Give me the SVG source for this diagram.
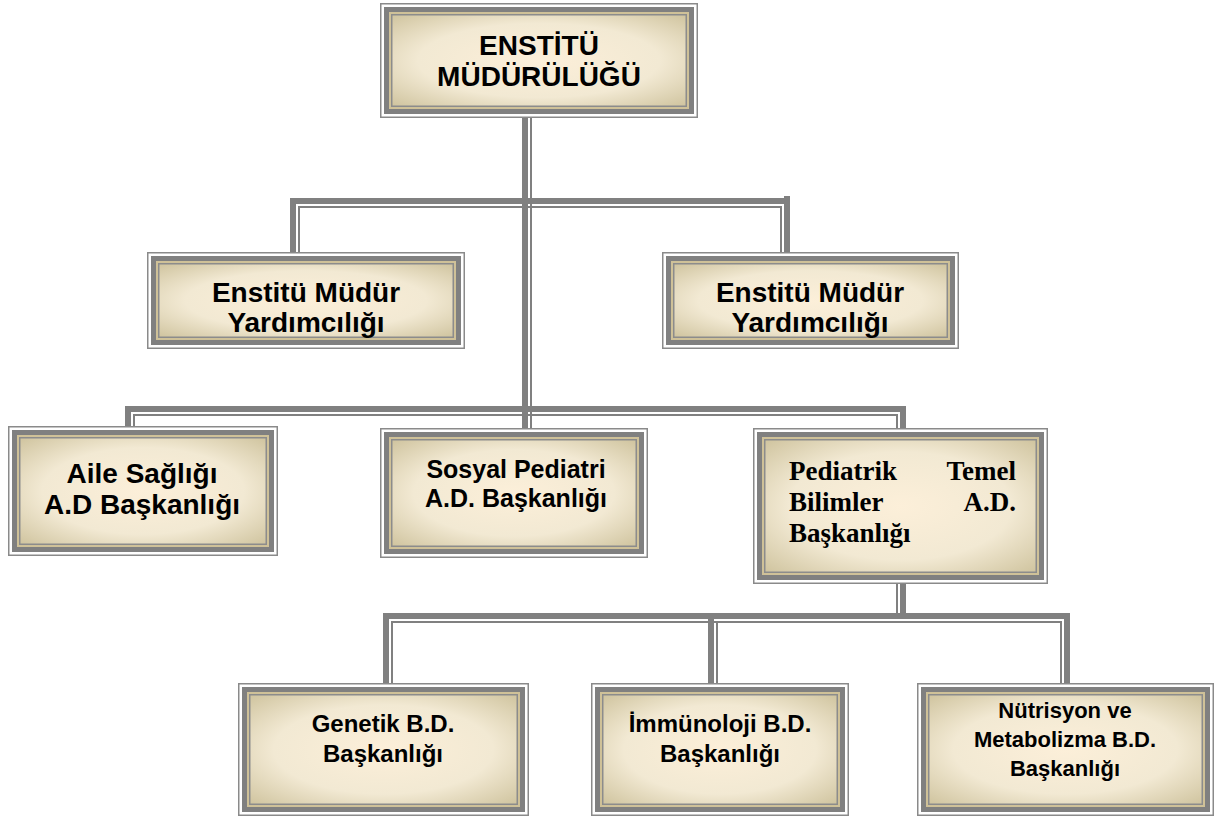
<svg xmlns="http://www.w3.org/2000/svg" width="1224" height="819" viewBox="0 0 1224 819">
<defs>
<radialGradient id="g" cx="0.5" cy="0.5" r="0.75">
<stop offset="0" stop-color="#fcefd9"/>
<stop offset="0.55" stop-color="#f2e9d3"/>
<stop offset="1" stop-color="#cbbf98"/>
</radialGradient>
<style>
.o{fill:#fff;stroke:#8a8a8a;stroke-width:1.5}
.b{fill:#808080}
.t{fill:#cfc198}
.l{fill:#8c8c8c}
.f{fill:url(#g)}
.c{fill:#808080}
.s{font-family:"Liberation Sans",Arial,sans-serif;font-weight:bold;fill:#000;text-anchor:middle}
.r{font-family:"Liberation Serif","Times New Roman",serif;font-weight:bold;fill:#000;font-size:27px}
</style>
</defs>
<rect width="1224" height="819" fill="#fff"/>
<g id="connectors">
<rect class="c" x="522" y="117" width="6" height="311"/><rect class="c" x="530" y="117" width="2" height="311"/>
<rect class="c" x="290" y="198" width="500" height="6"/><rect class="c" x="298" y="206" width="484" height="2"/>
<rect class="c" x="290" y="198" width="6" height="54"/><rect class="c" x="298" y="206" width="2" height="46"/>
<rect class="c" x="784" y="196" width="6" height="56"/><rect class="c" x="780" y="206" width="2" height="46"/>
<rect class="c" x="125" y="406" width="781" height="6"/><rect class="c" x="133" y="414" width="763" height="2"/>
<rect class="c" x="125" y="406" width="6" height="20"/><rect class="c" x="133" y="414" width="2" height="12"/>
<rect class="c" x="900" y="406" width="6" height="22"/><rect class="c" x="896" y="414" width="2" height="14"/>
<rect class="c" x="900" y="583" width="6" height="36"/><rect class="c" x="896" y="583" width="2" height="30"/>
<rect class="c" x="383" y="613" width="687" height="6"/><rect class="c" x="391" y="621" width="669" height="2"/>
<rect class="c" x="383" y="617" width="6" height="66"/><rect class="c" x="391" y="621" width="2" height="62"/>
<rect class="c" x="708" y="613" width="6" height="70"/><rect class="c" x="716" y="621" width="2" height="62"/>
<rect class="c" x="1064" y="617" width="6" height="66"/><rect class="c" x="1060" y="621" width="2" height="62"/>
</g>
<g id="n-mudurluk">
<rect class="o" x="380.75" y="3.75" width="316.5" height="113.5"/><rect class="b" x="384" y="7" width="310" height="107"/><rect class="t" x="389" y="12" width="300" height="97"/><rect class="l" x="391" y="14" width="296" height="93"/><rect class="f" x="392.5" y="15.5" width="293" height="90"/>
<text class="s" font-size="28" x="539" y="55">ENSTİTÜ</text><text class="s" font-size="28" x="539" y="86">MÜDÜRÜLÜĞÜ</text>
</g>
<g id="n-yard1">
<rect class="o" x="147.75" y="252.75" width="316.5" height="95.5"/><rect class="b" x="151" y="256" width="310" height="89"/><rect class="t" x="156" y="261" width="300" height="79"/><rect class="l" x="158" y="263" width="296" height="75"/><rect class="f" x="159.5" y="264.5" width="293" height="72"/>
<text class="s" font-size="28" x="306" y="302">Enstitü Müdür</text><text class="s" font-size="28" x="306" y="332">Yardımcılığı</text>
</g>
<g id="n-yard2">
<rect class="o" x="662.75" y="252.75" width="295.5" height="95.5"/><rect class="b" x="666" y="256" width="289" height="89"/><rect class="t" x="671" y="261" width="279" height="79"/><rect class="l" x="673" y="263" width="275" height="75"/><rect class="f" x="674.5" y="264.5" width="272" height="72"/>
<text class="s" font-size="28" x="810" y="302">Enstitü Müdür</text><text class="s" font-size="28" x="810" y="332">Yardımcılığı</text>
</g>
<g id="n-aile">
<rect class="o" x="8.75" y="426.75" width="268.5" height="128.5"/><rect class="b" x="12" y="430" width="262" height="122"/><rect class="t" x="17" y="435" width="252" height="112"/><rect class="l" x="19" y="437" width="248" height="108"/><rect class="f" x="20.5" y="438.5" width="245" height="105"/>
<text class="s" font-size="28" x="142" y="483">Aile Sağlığı</text><text class="s" font-size="28" x="142" y="514">A.D Başkanlığı</text>
</g>
<g id="n-sosyal">
<rect class="o" x="380.75" y="428.75" width="266.5" height="128.5"/><rect class="b" x="384" y="432" width="260" height="122"/><rect class="t" x="389" y="437" width="250" height="112"/><rect class="l" x="391" y="439" width="246" height="108"/><rect class="f" x="392.5" y="440.5" width="243" height="105"/>
<text class="s" font-size="25" x="516" y="478">Sosyal Pediatri</text><text class="s" font-size="25" x="516" y="507">A.D. Başkanlığı</text>
</g>
<g id="n-pediatrik">
<rect class="o" x="753.75" y="428.75" width="293.5" height="154.5"/><rect class="b" x="757" y="432" width="287" height="148"/><rect class="t" x="762" y="437" width="277" height="138"/><rect class="l" x="764" y="439" width="273" height="134"/><rect class="f" x="765.5" y="440.5" width="270" height="131"/>
<text class="r" x="789" y="480">Pediatrik</text><text class="r" x="1016" y="480" text-anchor="end">Temel</text>
<text class="r" x="789" y="511">Bilimler</text><text class="r" x="1016" y="511" text-anchor="end">A.D.</text>
<text class="r" x="789" y="542">Başkanlığı</text>
</g>
<g id="n-genetik">
<rect class="o" x="238.75" y="683.75" width="289.5" height="131.5"/><rect class="b" x="242" y="687" width="283" height="125"/><rect class="t" x="247" y="692" width="273" height="115"/><rect class="l" x="249" y="694" width="269" height="111"/><rect class="f" x="250.5" y="695.5" width="266" height="108"/>
<text class="s" font-size="24" x="383" y="732">Genetik B.D.</text><text class="s" font-size="24" x="383" y="762">Başkanlığı</text>
</g>
<g id="n-immunoloji">
<rect class="o" x="591.75" y="683.75" width="256.5" height="131.5"/><rect class="b" x="595" y="687" width="250" height="125"/><rect class="t" x="600" y="692" width="240" height="115"/><rect class="l" x="602" y="694" width="236" height="111"/><rect class="f" x="603.5" y="695.5" width="233" height="108"/>
<text class="s" font-size="24" x="720" y="732">İmmünoloji B.D.</text><text class="s" font-size="24" x="720" y="762">Başkanlığı</text>
</g>
<g id="n-nutrisyon">
<rect class="o" x="917.75" y="683.75" width="295.5" height="131.5"/><rect class="b" x="921" y="687" width="289" height="125"/><rect class="t" x="926" y="692" width="279" height="115"/><rect class="l" x="928" y="694" width="275" height="111"/><rect class="f" x="929.5" y="695.5" width="272" height="108"/>
<text class="s" font-size="22" x="1065" y="718">Nütrisyon ve</text><text class="s" font-size="22" x="1065" y="747">Metabolizma B.D.</text><text class="s" font-size="22" x="1065" y="776">Başkanlığı</text>
</g>
</svg>
